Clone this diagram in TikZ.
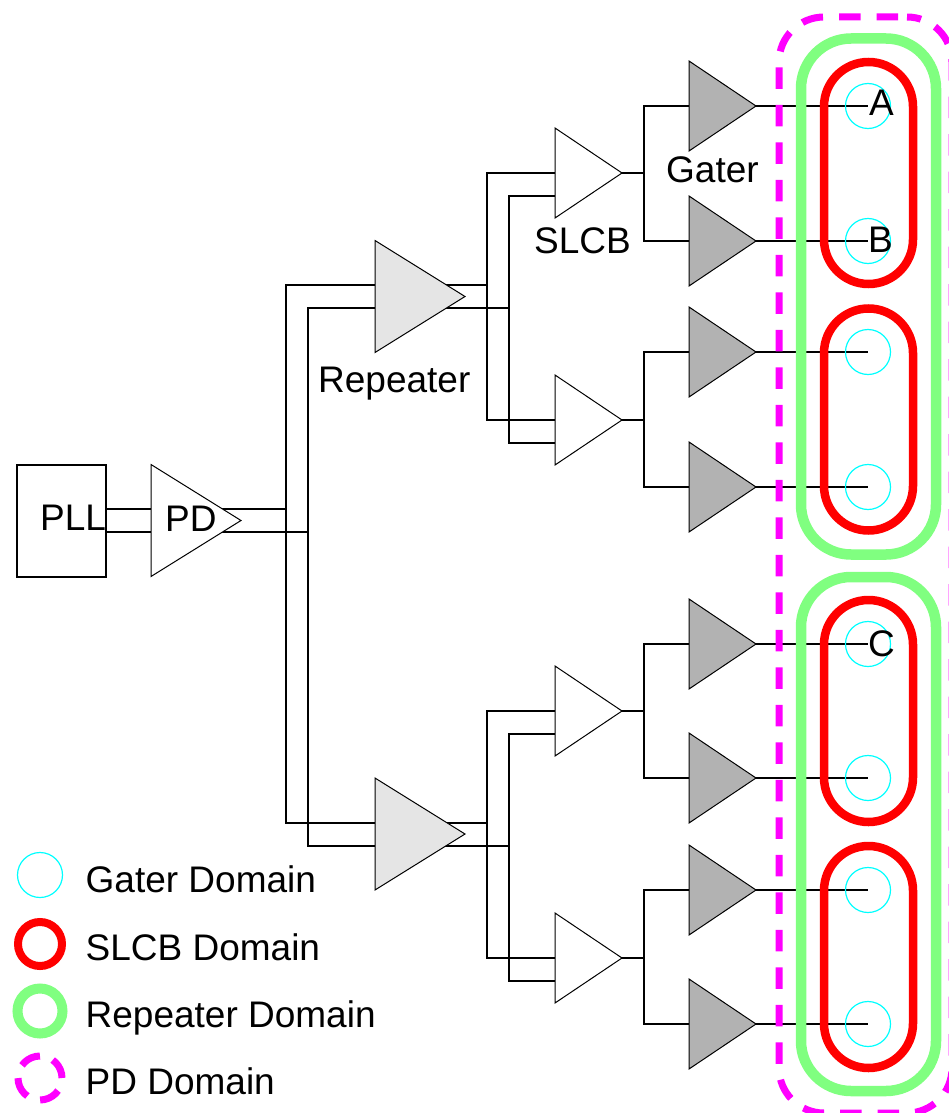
\documentclass[tikz,border=0pt]{standalone}
\usepackage{fontspec}
\setmainfont{Liberation Sans}
\usetikzlibrary{shapes.geometric,backgrounds}
\definecolor{gatergray}{HTML}{B2B2B2}
\definecolor{repgray}{HTML}{E5E5E5}
\definecolor{repgreen}{HTML}{80FF80}
\definecolor{domcyan}{RGB}{0,255,255}
\definecolor{domred}{RGB}{255,0,0}
\definecolor{dompink}{RGB}{255,0,255}
\tikzstyle{bigtri} = [isosceles triangle, isosceles triangle stretches, draw, line width=1pt,
    inner sep=0pt, outer sep=0pt, minimum width=112pt, minimum height=90pt]
\tikzstyle{smalltri} = [isosceles triangle, isosceles triangle stretches, draw, line width=1pt,
    inner sep=0pt, outer sep=0pt, minimum width=90pt, minimum height=67pt]
\tikzstyle{repeater} = [bigtri, fill=repgray]
\tikzstyle{slcb} = [smalltri, fill=white]
\tikzstyle{gater} = [smalltri, fill=gatergray]
\tikzstyle{wire} = [draw, line width=2pt]
\tikzstyle{lbl} = [inner sep=0pt, anchor=base west, font=\fontsize{37}{44}\selectfont]
\tikzstyle{gdom} = [circle, draw=domcyan, line width=1.2pt, minimum size=45pt, inner sep=0pt]
\tikzstyle{sdom} = [rectangle, draw=domred, line width=8.5pt, rounded corners=44.5pt,
    inner sep=0pt, minimum width=89pt]
\tikzstyle{rdom} = [rectangle, draw=repgreen, line width=10.5pt, rounded corners=50pt,
    inner sep=0pt, minimum width=135pt]
\tikzstyle{pdom} = [rectangle, draw=dompink, line width=7pt, rounded corners=45pt,
    dash pattern=on 21.5pt off 16pt, dash phase=28.5pt, inner sep=0pt]
\begin{document}
\begin{tikzpicture}[x=1pt, y=-1pt, node distance=135pt]
\useasboundingbox (0,0) rectangle (949,1113);
    % Place nodes
\node[rectangle, draw, line width=2pt, minimum width=89pt, minimum height=112pt, inner sep=0pt]
  (pll) at (61.5,520.5) {};
\node[bigtri, fill=white, anchor=apex] (pd) at (241,520.5) {};
\node[repeater, anchor=apex] (rep1) at (465,296.5) {};
\node[repeater, below of=rep1, node distance=537.5pt] (rep2) {};
\node[slcb, anchor=apex] (s1) at (622,173) {};
\node[slcb, below of=s1, node distance=247pt] (s2) {};
\node[slcb, below of=s2, node distance=291pt] (s3) {};
\node[slcb, below of=s3, node distance=247pt] (s4) {};
\node[gater, anchor=apex] (g1) at (756,106) {};
\node[gater, below of=g1] (g2) {};
\node[gater, below of=g2, node distance=111pt] (g3) {};
\node[gater, below of=g3] (g4) {};
\node[gater, below of=g4, node distance=157pt] (g5) {};
\node[gater, below of=g5, node distance=134pt] (g6) {};
\node[gater, below of=g6, node distance=112pt] (g7) {};
\node[gater, below of=g7, node distance=134pt] (g8) {};

    % Domains
\node[pdom, minimum width=173pt, minimum height=1096pt] (pdbox) at (865.5,565) {};
\node[rdom, minimum height=516pt] (r1) at (868.5,296.5) {};
\node[rdom, minimum height=514pt] (r2) at (868.5,834) {};
\node[sdom, minimum height=222pt] (d1) at (868.5,173) {};
\node[sdom, minimum height=222pt] (d2) at (868.5,419.5) {};
\node[sdom, minimum height=222pt] (d3) at (868.5,711) {};
\node[sdom, minimum height=222pt] (d4) at (868.5,957) {};
\node[gdom] (c1) at (868,106) {};
\node[gdom] (c2) at (868,241) {};
\node[gdom] (c3) at (868,352) {};
\node[gdom] (c4) at (868,487) {};
\node[gdom] (c5) at (868,644) {};
\node[gdom] (c6) at (868,778) {};
\node[gdom] (c7) at (868,890) {};
\node[gdom] (c8) at (868,1024) {};

    % Labels
\node[lbl] (pllt) at (40,530) {PLL};
\node[lbl] (pdt) at (165,531) {PD};
\node[lbl] (rept) at (318,392) {Repeater};
\node[lbl] (slcbt) at (534,253) {SLCB};
\node[lbl] (gatert) at (666,182) {Gater};
\node[lbl] (a) at (869,116) {A};
\node[lbl] (b) at (868,252) {B};
\node[lbl] (c) at (868,656) {C};

    % Legend
\node[gdom] (lg1) at (40,875) {};
\node[circle, draw=domred, line width=8pt, minimum size=44pt, inner sep=0pt] (lg2) at (40,944) {};
\node[circle, draw=repgreen, line width=10pt, minimum size=45pt, inner sep=0pt] (lg3) at (40,1011) {};
\node[circle, draw=dompink, line width=7pt, minimum size=44pt, inner sep=0pt,
  dash pattern=on 21pt off 13.55pt] (lg4) at (40,1078) {};
\node[lbl] (lt1) at (85.5,892) {Gater Domain};
\node[lbl] (lt2) at (85.5,960) {SLCB Domain};
\node[lbl] (lt3) at (85.5,1027) {Repeater Domain};
\node[lbl] (lt4) at (85.5,1094) {PD Domain};

    % Draw edges
\begin{pgfonlayer}{background}
\coordinate (bus1) at ([xshift=45pt]pd.apex);
\coordinate (bus2) at ([xshift=67pt]pd.apex);
\coordinate (t1) at ([xshift=22pt]rep1.apex);
\coordinate (t2) at ([xshift=44pt]rep1.apex);
\coordinate (t3) at ([xshift=22pt]rep2.apex);
\coordinate (t4) at ([xshift=44pt]rep2.apex);
\path [wire] ([yshift=11.5pt]pll.east) -- ([yshift=11.5pt]bus1);
\path [wire] ([yshift=-11.5pt]pll.east) -- ([yshift=-11.5pt]bus2);
\path [wire] ([yshift=11.5pt]rep1.west) -| (bus1) |- ([yshift=11.5pt]rep2.west);
\path [wire] ([yshift=-11.5pt]rep1.west) -| (bus2) |- ([yshift=-11.5pt]rep2.west);
\path [wire] ([yshift=11.5pt]rep1.center) -- ([yshift=11.5pt]t1);
\path [wire] ([yshift=-11.5pt]rep1.center) -- ([yshift=-11.5pt]t2);
\path [wire] ([yshift=11.5pt]rep2.center) -- ([yshift=11.5pt]t3);
\path [wire] ([yshift=-11.5pt]rep2.center) -- ([yshift=-11.5pt]t4);
\path [wire] (s1.west) -| (t1) |- (s2.west);
\path [wire] ([yshift=-22.5pt]s1.west) -| (t2) |- ([yshift=-22.5pt]s2.west);
\path [wire] (s3.west) -| (t3) |- (s4.west);
\path [wire] ([yshift=-22.5pt]s3.west) -| (t4) |- ([yshift=-22.5pt]s4.west);
\path [wire] (g1.west) -| ([xshift=22pt]s1.apex) |- (g2.west);
\path [wire] (g3.west) -| ([xshift=22pt]s2.apex) |- (g4.west);
\path [wire] (g5.west) -| ([xshift=22pt]s3.apex) |- (g6.west);
\path [wire] (g7.west) -| ([xshift=22pt]s4.apex) |- (g8.west);
\path [wire] (s1.apex) -- ([xshift=22pt]s1.apex);
\path [wire] (s2.apex) -- ([xshift=22pt]s2.apex);
\path [wire] (s3.apex) -- ([xshift=22pt]s3.apex);
\path [wire] (s4.apex) -- ([xshift=22pt]s4.apex);
\path [wire] (g1.apex) -- (c1.center);
\path [wire] (g2.apex) -- (c2.center);
\path [wire] (g3.apex) -- (c3.center);
\path [wire] (g4.apex) -- (c4.center);
\path [wire] (g5.apex) -- (c5.center);
\path [wire] (g6.apex) -- (c6.center);
\path [wire] (g7.apex) -- (c7.center);
\path [wire] (g8.apex) -- (c8.center);
\end{pgfonlayer}
\end{tikzpicture}
\end{document}
